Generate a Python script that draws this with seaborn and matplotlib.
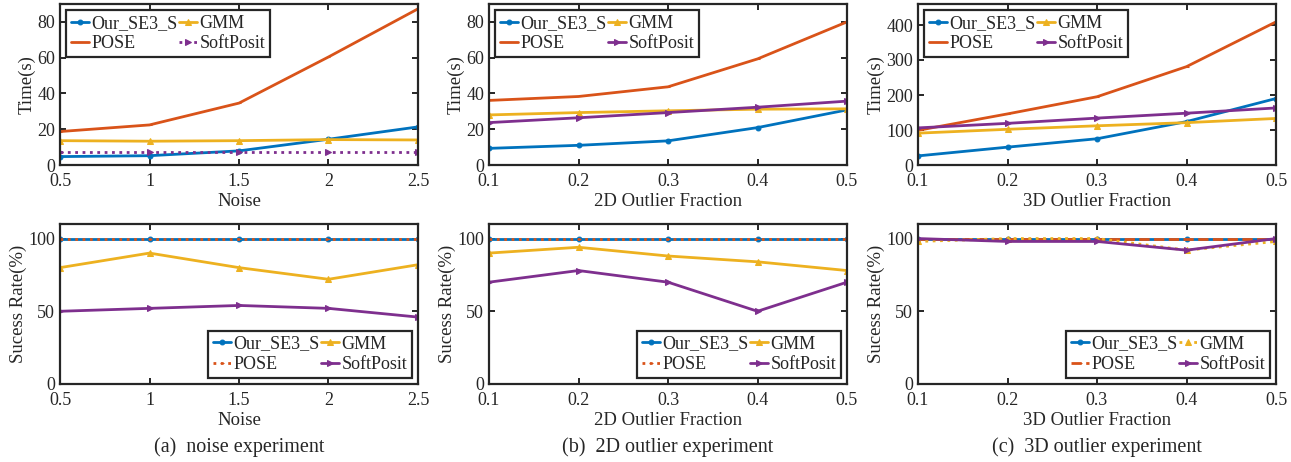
import numpy as np
import pandas as pd
import seaborn as sns
import matplotlib.pyplot as plt

sns.set_style("ticks")
plt.rcParams["font.family"] = ["Liberation Serif", "DejaVu Serif"]
plt.rcParams["axes.linewidth"] = 1.6
plt.rcParams["xtick.direction"] = "in"
plt.rcParams["ytick.direction"] = "in"
plt.rcParams["xtick.top"] = True
plt.rcParams["ytick.right"] = True
plt.rcParams["xtick.major.size"] = 4
plt.rcParams["ytick.major.size"] = 4
plt.rcParams["xtick.major.width"] = 1.4
plt.rcParams["ytick.major.width"] = 1.4
plt.rcParams["xtick.major.pad"] = 6
plt.rcParams["xtick.labelsize"] = 13
plt.rcParams["ytick.labelsize"] = 13
plt.rcParams["axes.labelsize"] = 13.5

# x values
noise = [0.5, 1, 1.5, 2, 2.5]
frac = [0.1, 0.2, 0.3, 0.4, 0.5]

# (a) noise experiment
time_noise = {
    "Our_SE3_S": [4.7, 5.2, 7.9, 14.4, 21.3],
    "GMM": [13.6, 13.3, 13.6, 14.2, 14.0],
    "POSE": [18.7, 22.4, 34.6, 60.4, 87.3],
    "SoftPosit": [7.3, 7.3, 7.3, 7.3, 7.3],
}
rate_noise = {
    "Our_SE3_S": [100, 100, 100, 100, 100],
    "GMM": [80, 90, 80, 72, 82],
    "POSE": [100, 100, 100, 100, 100],
    "SoftPosit": [50, 52, 54, 52, 46],
}

# (b) 2D outlier experiment
time_2d = {
    "Our_SE3_S": [9.3, 11.0, 13.5, 20.9, 30.8],
    "GMM": [28.0, 29.3, 30.3, 31.2, 31.4],
    "POSE": [36.1, 38.3, 43.7, 59.3, 80.0],
    "SoftPosit": [23.7, 26.4, 29.3, 32.3, 35.7],
}
rate_2d = {
    "Our_SE3_S": [100, 100, 100, 100, 100],
    "GMM": [90, 94, 88, 84, 78],
    "POSE": [100, 100, 100, 100, 100],
    "SoftPosit": [70, 78, 70, 50, 70],
}

# (c) 3D outlier experiment
time_3d = {
    "Our_SE3_S": [26, 51, 75, 124, 190],
    "GMM": [91, 102, 112, 121, 133],
    "POSE": [99, 146, 195, 281, 409],
    "SoftPosit": [106, 119, 134, 148, 163],
}
rate_3d = {
    "Our_SE3_S": [100, 100, 100, 100, 100],
    "GMM": [98, 100, 100, 92, 98],
    "POSE": [100, 100, 100, 100, 100],
    "SoftPosit": [100, 98, 98, 92, 100],
}

colors = {"Our_SE3_S": "#0072BD", "POSE": "#D95319", "GMM": "#EDB120", "SoftPosit": "#7E2F8E"}
markers = {"Our_SE3_S": "o", "POSE": "_", "GMM": "^", "SoftPosit": ">"}
msize = {"Our_SE3_S": 3.5, "POSE": 3, "GMM": 5, "SoftPosit": 5}
order = ["Our_SE3_S", "POSE", "GMM", "SoftPosit"]  # column-major for 2-col legend


def draw(ax, x, data, styles, xlabel, ylabel, ylim, yticks, xticks, legloc):
    handles = []
    for name in order:
        df = pd.DataFrame({"x": x, "y": data[name]})
        sns.lineplot(data=df, x="x", y="y", ax=ax, color=colors[name],
                     linestyle=styles.get(name, "-"), linewidth=2,
                     marker=markers[name], markersize=msize[name],
                     markeredgecolor=colors[name], markerfacecolor=colors[name])
        handles.append(ax.lines[-1])
    ax.set_xlim(x[0], x[-1])
    ax.set_ylim(*ylim)
    ax.set_xticks(xticks)
    ax.set_xticklabels([f"{v:g}" for v in xticks])
    ax.set_yticks(yticks)
    ax.set_xlabel(xlabel, labelpad=2)
    ax.set_ylabel(ylabel, labelpad=1)
    for s in ax.spines.values():
        s.set_color("#262626")
    leg = ax.legend(handles, order, loc=legloc, ncol=2, fontsize=13,
                    handlelength=1.0, handletextpad=0.12, columnspacing=0.1,
                    labelspacing=0.2, borderpad=0.25, fancybox=False,
                    framealpha=1, edgecolor="#262626", borderaxespad=0.35)
    leg.get_frame().set_linewidth(1.6)


fig = plt.figure(figsize=(12.91, 4.62), dpi=100, facecolor="w")
lefts = [60 / 1291, 489 / 1291, 918 / 1291]
w = 358 / 1291
top_b, top_h = 1 - 165 / 462, 161 / 462
bot_b, bot_h = 1 - 384 / 462, 160 / 462

panels = [
    (noise, time_noise, rate_noise, "Noise", [0, 90], [0, 20, 40, 60, 80],
     {"SoftPosit": ":"}, {"POSE": ":"}, "(a)  noise experiment"),
    (frac, time_2d, rate_2d, "2D Outlier Fraction", [0, 90], [0, 20, 40, 60, 80],
     {}, {"POSE": ":"}, "(b)  2D outlier experiment"),
    (frac, time_3d, rate_3d, "3D Outlier Fraction", [0, 460], [0, 100, 200, 300, 400],
     {}, {"POSE": "--", "GMM": ":"}, "(c)  3D outlier experiment"),
]

for left, (x, tdata, rdata, xlabel, tylim, tyticks, tsty, rsty, cap) in zip(lefts, panels):
    ax1 = fig.add_axes([left, top_b, w, top_h])
    draw(ax1, x, tdata, tsty, xlabel, "Time(s)", tylim, tyticks, x, "upper left")
    ax2 = fig.add_axes([left, bot_b, w, bot_h])
    draw(ax2, x, rdata, rsty, xlabel, "Sucess Rate(%)", [0, 110], [0, 50, 100], x, "lower right")
    fig.text(left + w / 2, 1 - 447 / 462, cap, ha="center", va="center", fontsize=14.5)

fig.savefig("out.png", dpi=100, facecolor="w")
